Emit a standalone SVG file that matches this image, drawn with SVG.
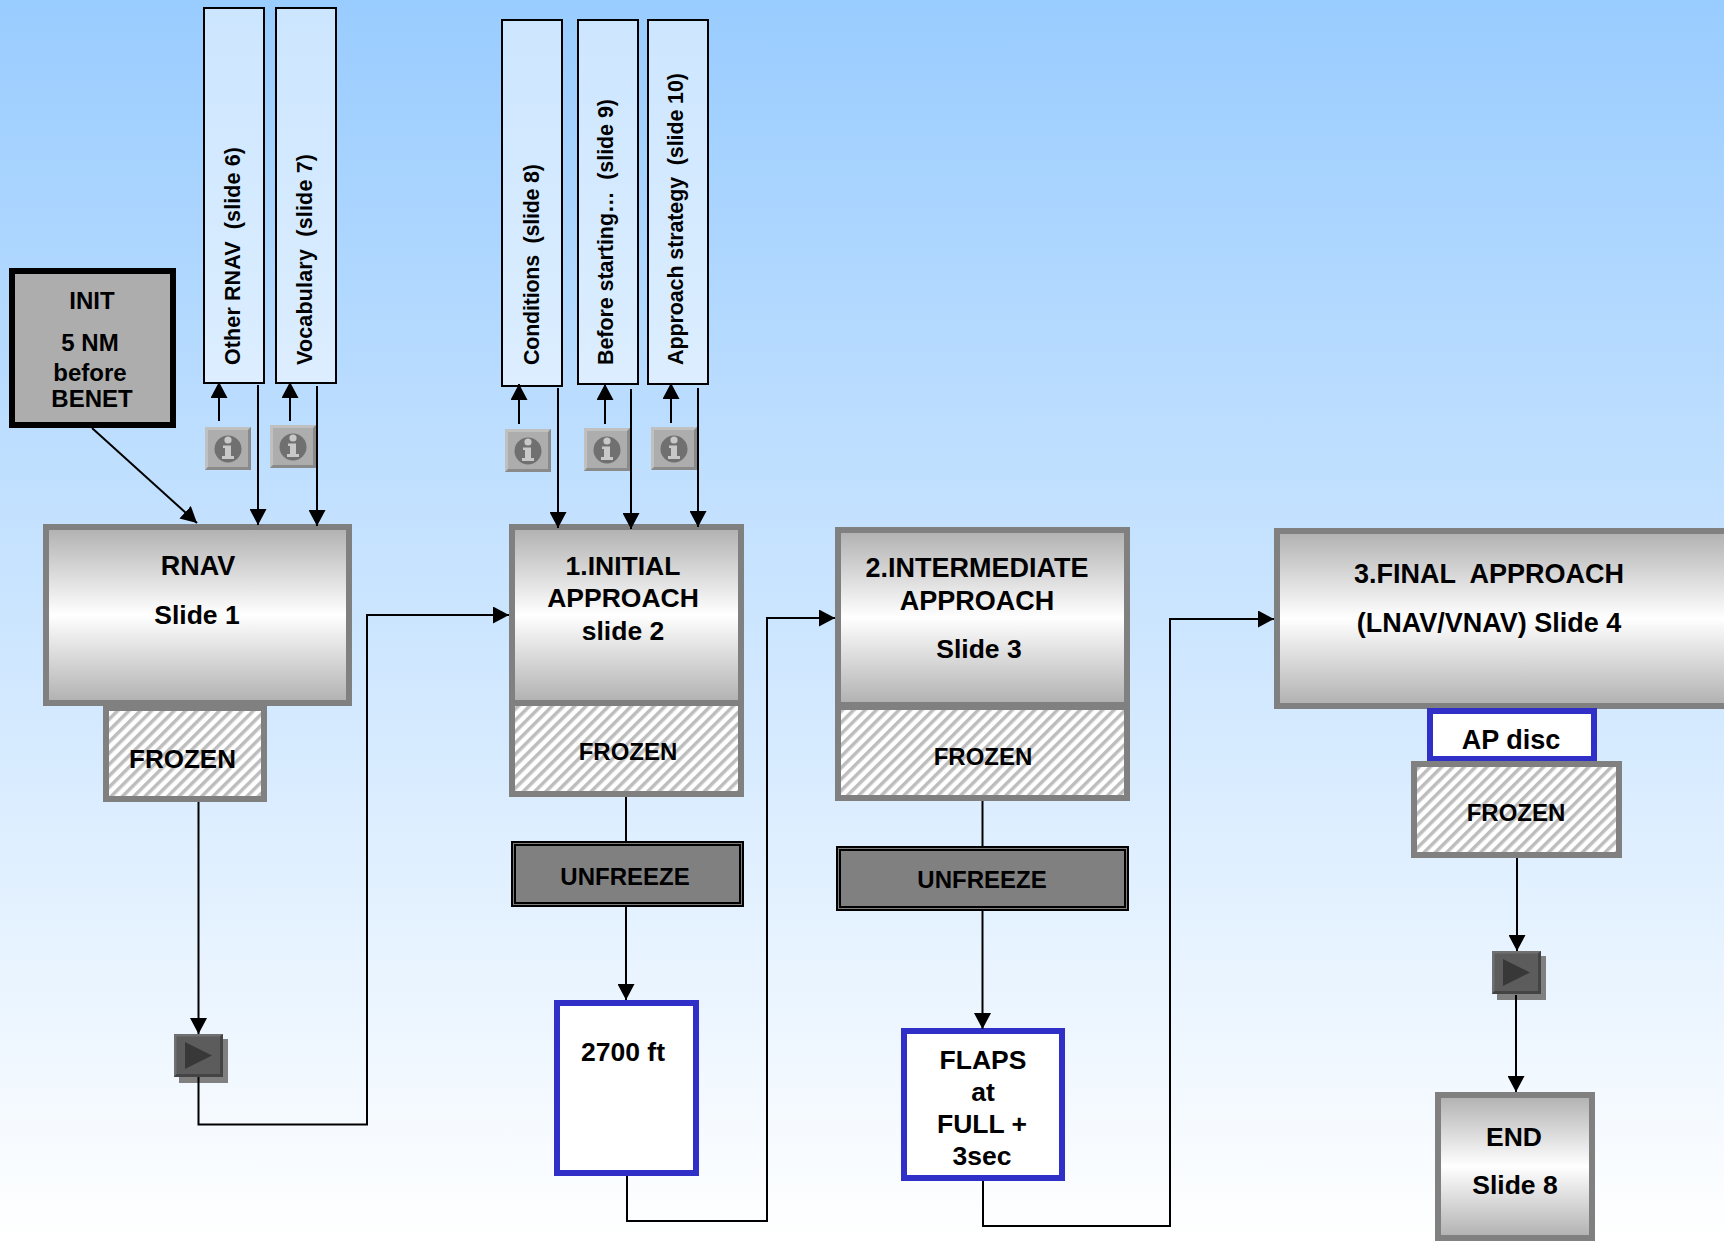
<svg xmlns="http://www.w3.org/2000/svg" width="1724" height="1241" viewBox="0 0 1724 1241">
<style>
text{font-family:"Liberation Sans",Arial,sans-serif;font-weight:bold;fill:#000;font-size:26.500px;text-anchor:middle;white-space:pre}
.s24{font-size:24px}
.s26{font-size:26px}
.s27{font-size:27px}
.side{font-size:21.500px;text-anchor:start}
.grey{fill:url(#metal);stroke:#808080;stroke-width:6}
.frozen{fill:url(#hatch);stroke:#808080;stroke-width:6}
.blue{fill:#fff;stroke:#3030c8;stroke-width:6}
.tab{fill:#fff;fill-opacity:.5;stroke:#000;stroke-width:2}
.unf{fill:#808080;stroke:#000;stroke-width:2}
#connectors path{fill:none;stroke:#000;stroke-width:2}
#connectors path.arr{marker-end:url(#ah)}
</style>
<defs>
<linearGradient id="bg" x1="0" y1="0" x2="0" y2="1"><stop offset="0" stop-color="#99ccff"/><stop offset="1" stop-color="#fff"/></linearGradient>
<linearGradient id="metal" x1="0" y1="0" x2="0" y2="1"><stop offset="0" stop-color="#b0b0b0"/><stop offset=".5" stop-color="#fff"/><stop offset="1" stop-color="#b0b0b0"/></linearGradient>
<pattern id="hatch" width="8" height="8" patternUnits="userSpaceOnUse" patternTransform="rotate(-45)"><rect width="8" height="8" fill="#fff"/><rect width="8" height="3.500" fill="#bdbdbd"/></pattern>
<marker id="ah" markerUnits="userSpaceOnUse" markerWidth="17" markerHeight="17" refX="16" refY="8.500" orient="auto"><path d="M0 0L16 8.500L0 17Z" fill="#000"/></marker>
<g id="info">
<rect width="46" height="43" fill="#adadad"/>
<path d="M0 0H46L43 3H3V40L0 43Z" fill="#c0c0c0"/>
<path d="M46 0V43H0L3 40H43V3Z" fill="#8a8a8a"/>
<circle cx="23" cy="22" r="13.500" fill="#707070"/>
<circle cx="23" cy="13" r="3.600" fill="#c8c8c8"/>
<path d="M18 18.500H26V29H29V32H17V29H20V21H18Z" fill="#c8c8c8"/>
</g>
<g id="play">
<rect x="5" y="5" width="49" height="44" fill="#808080"/>
<rect width="49" height="43" fill="#5c5c5c"/>
<path d="M0 0H49L46 2.500H2.500V40L0 43Z" fill="#707070"/>
<path d="M49 0V43H0L2.500 40H46V2.500Z" fill="#444"/>
<path d="M11 8L38 21.500L11 35Z" fill="#383838"/>
</g>
</defs>
<rect id="background" width="1724" height="1241" fill="url(#bg)"/>

<g id="tab-other-rnav"><rect class="tab" x="204" y="8" width="60" height="375"/><text class="side" transform="translate(240 365) rotate(-90)" textLength="218">Other RNAV  (slide 6)</text></g>
<g id="tab-vocabulary"><rect class="tab" x="276" y="8" width="60" height="375"/><text class="side" transform="translate(312 365) rotate(-90)" textLength="211">Vocabulary  (slide 7)</text></g>
<g id="tab-conditions"><rect class="tab" x="502" y="20" width="60" height="366"/><text class="side" transform="translate(539 365) rotate(-90)" textLength="201">Conditions  (slide 8)</text></g>
<g id="tab-before"><rect class="tab" x="578" y="20" width="60" height="364"/><text class="side" transform="translate(613 365) rotate(-90)" textLength="266">Before starting…  (slide 9)</text></g>
<g id="tab-approach"><rect class="tab" x="648" y="20" width="60" height="364"/><text class="side" transform="translate(683 365) rotate(-90)" textLength="292">Approach strategy  (slide 10)</text></g>

<use id="info-1" href="#info" x="205" y="427"/>
<use id="info-2" href="#info" x="270" y="425"/>
<use id="info-3" href="#info" x="505" y="429"/>
<use id="info-4" href="#info" x="584" y="428"/>
<use id="info-5" href="#info" x="651" y="427"/>

<g id="init"><rect x="12" y="271" width="161" height="154" fill="#adadad" stroke="#000" stroke-width="6"/>
<text class="s24" x="92" y="309">INIT</text><text class="s24" x="90" y="351">5 NM</text><text class="s24" x="90" y="381">before</text><text class="s24" x="92" y="407">BENET</text></g>

<g id="rnav"><rect class="grey" x="46" y="527" width="303" height="176"/><text class="s27" x="198" y="575">RNAV</text><text x="197" y="624">Slide 1</text></g>
<g id="rnav-frozen"><rect class="frozen" x="106" y="708" width="158" height="91"/><text class="s26" x="182.500" y="768">FROZEN</text></g>
<g id="play-1"><use href="#play" x="174" y="1034"/></g>

<g id="initial"><rect class="grey" x="512" y="527" width="229" height="176"/><text x="623" y="575">1.INITIAL</text><text x="623" y="607">APPROACH</text><text x="623" y="640">slide 2</text></g>
<g id="initial-frozen"><rect class="frozen" x="512" y="703" width="229" height="91"/><text class="s24" x="628" y="760">FROZEN</text></g>
<g id="initial-unfreeze"><rect class="unf" x="512" y="842" width="231" height="64"/><rect x="515" y="845" width="225" height="58" fill="none" stroke="#000" stroke-width="2"/><text class="s24" x="625" y="885">UNFREEZE</text></g>
<g id="alt-2700"><rect class="blue" x="557" y="1003" width="139" height="170"/><text x="623" y="1061">2700 ft</text></g>

<g id="intermediate"><rect class="grey" x="838" y="530" width="289" height="175"/><text class="s27" x="977" y="577">2.INTERMEDIATE</text><text class="s27" x="977" y="610">APPROACH</text><text x="979" y="658">Slide 3</text></g>
<g id="intermediate-frozen"><rect class="frozen" x="838" y="707" width="289" height="91"/><text class="s24" x="983" y="765">FROZEN</text></g>
<g id="intermediate-unfreeze"><rect class="unf" x="837" y="847" width="291" height="63"/><rect x="840" y="850" width="285" height="57" fill="none" stroke="#000" stroke-width="2"/><text class="s24" x="982" y="888">UNFREEZE</text></g>
<g id="flaps"><rect class="blue" x="904" y="1031" width="158" height="147"/><text x="983" y="1069">FLAPS</text><text x="983" y="1101">at</text><text x="982" y="1133">FULL +</text><text x="982" y="1165">3sec</text></g>

<g id="final"><rect class="grey" x="1277" y="531" width="460" height="175"/><text class="s27" x="1489" y="583">3.FINAL  APPROACH</text><text class="s27" x="1489" y="632">(LNAV/VNAV) Slide 4</text></g>
<g id="ap-disc"><rect class="blue" x="1430" y="711" width="164" height="48"/><text class="s27" x="1511" y="749">AP disc</text></g>
<g id="final-frozen"><rect class="frozen" x="1414" y="764" width="205" height="91"/><text class="s24" x="1516" y="821">FROZEN</text></g>
<g id="play-2"><use href="#play" x="1492" y="951"/></g>
<g id="end"><rect class="grey" x="1438" y="1095" width="154" height="143"/><text x="1514" y="1146">END</text><text x="1515" y="1194">Slide 8</text></g>

<g id="connectors">
<path class="arr" d="M92 428L197 523"/>
<path class="arr" d="M219 421V382"/>
<path class="arr" d="M290 421V382"/>
<path class="arr" d="M258 385V525"/>
<path class="arr" d="M317 386V526"/>
<path class="arr" d="M519 424V384"/>
<path class="arr" d="M605 424V384"/>
<path class="arr" d="M671 423V383"/>
<path class="arr" d="M558 388V528"/>
<path class="arr" d="M631 389V529"/>
<path class="arr" d="M698 388V527"/>
<path class="arr" d="M198.500 802V1034"/>
<path class="arr" d="M198.500 1077V1124.500H367V615H509"/>
<path d="M626 797V841"/>
<path class="arr" d="M626 907V1000"/>
<path class="arr" d="M627 1176V1221H767V618H835"/>
<path d="M982.500 801V846"/>
<path class="arr" d="M982.500 911V1029"/>
<path class="arr" d="M983 1181V1226H1170V619H1274"/>
<path class="arr" d="M1517 858V951"/>
<path class="arr" d="M1516 995V1092"/>
</g>
</svg>
